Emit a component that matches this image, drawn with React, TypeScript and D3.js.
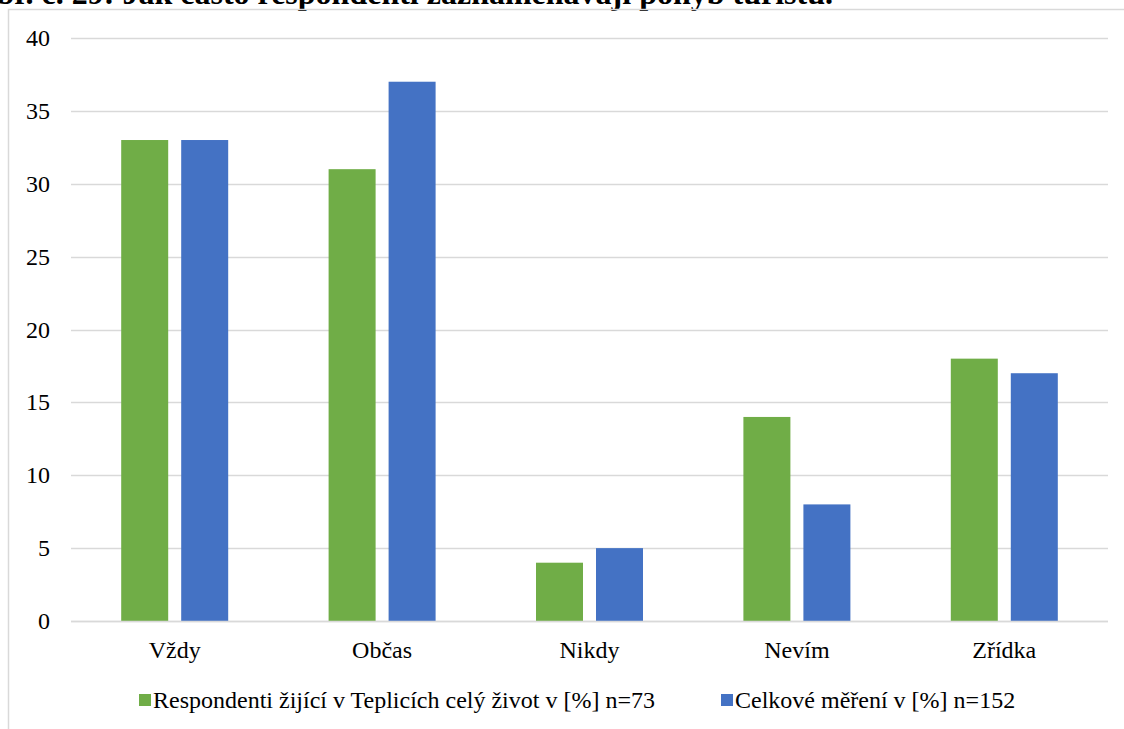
import React, { useEffect, useRef } from "react";
import * as d3 from "d3";

const categories = ["Vždy", "Občas", "Nikdy", "Nevím", "Zřídka"];
const seriesNames = [
  "Respondenti žijící v Teplicích celý život v [%] n=73",
  "Celkové měření v [%] n=152",
];
const teplice = [33, 31, 4, 14, 18];
const celkove = [33, 37, 5, 8, 17];
const yTicks = [0, 5, 10, 15, 20, 25, 30, 35, 40];
const colors = ["#70AD47", "#4472C4"];
const title = "Obr. č. 29: Jak často respondenti zaznamenávají pohyb turistů.";

const W = 1124;
const H = 729;

export default function App() {
  const ref = useRef<SVGSVGElement | null>(null);

  useEffect(() => {
    const svg = d3.select(ref.current);
    svg.selectAll("*").remove();
    const font = "'Liberation Serif', 'Times New Roman', serif";

    // title, partly above the visible area
    svg
      .append("text")
      .attr("x", 833)
      .attr("y", 4)
      .attr("text-anchor", "end")
      .attr("font-family", font)
      .attr("font-weight", "bold")
      .attr("font-size", 32)
      .attr("fill", "#000")
      .text(title);

    // chart frame
    svg
      .append("rect")
      .attr("x", 8.5)
      .attr("y", 9.5)
      .attr("width", 1200)
      .attr("height", 800)
      .attr("fill", "none")
      .attr("stroke", "#d9d9d9")
      .attr("stroke-width", 1.5);

    const x = d3.scaleBand().domain(categories).range([71, 1108]);
    const y = d3.scaleLinear().domain([0, 40]).range([621, 38]);
    const barW = 47;
    const gap = 13;

    const g = svg.append("g");

    g.selectAll("line.grid")
      .data(yTicks)
      .join("line")
      .attr("class", "grid")
      .attr("x1", 71)
      .attr("x2", 1108)
      .attr("y1", (d) => Math.round(y(d)) + 0.5)
      .attr("y2", (d) => Math.round(y(d)) + 0.5)
      .attr("stroke", "#d9d9d9")
      .attr("stroke-width", 1.5);

    g.selectAll("text.ytick")
      .data(yTicks)
      .join("text")
      .attr("class", "ytick")
      .attr("x", 50)
      .attr("y", (d) => y(d) + 8)
      .attr("text-anchor", "end")
      .attr("font-family", font)
      .attr("font-size", 24)
      .attr("fill", "#000")
      .text((d) => String(d));

    const series = [teplice, celkove];
    series.forEach((vals, si) => {
      g.selectAll(`rect.s${si}`)
        .data(vals)
        .join("rect")
        .attr("class", `s${si}`)
        .attr("x", (_, i) => {
          const c = x(categories[i])! + x.bandwidth() / 2;
          return si === 0 ? c - gap / 2 - barW : c + gap / 2;
        })
        .attr("width", barW)
        .attr("y", (d) => y(d))
        .attr("height", (d) => y(0) - y(d))
        .attr("fill", colors[si]);
    });

    // baseline
    g.append("line")
      .attr("x1", 71)
      .attr("x2", 1108)
      .attr("y1", Math.round(y(0)) + 0.5)
      .attr("y2", Math.round(y(0)) + 0.5)
      .attr("stroke", "#d9d9d9")
      .attr("stroke-width", 1.5);

    g.selectAll("text.xtick")
      .data(categories)
      .join("text")
      .attr("class", "xtick")
      .attr("x", (d) => x(d)! + x.bandwidth() / 2)
      .attr("y", 658)
      .attr("text-anchor", "middle")
      .attr("font-family", font)
      .attr("font-size", 24)
      .attr("fill", "#000")
      .text((d) => d);

    // legend
    const legendX = [139, 721];
    seriesNames.forEach((name, i) => {
      svg
        .append("rect")
        .attr("x", legendX[i])
        .attr("y", 694)
        .attr("width", 12)
        .attr("height", 12)
        .attr("fill", colors[i]);
      svg
        .append("text")
        .attr("x", legendX[i] + 14)
        .attr("y", 708)
        .attr("font-family", font)
        .attr("font-size", 24)
        .attr("fill", "#000")
        .text(name);
    });
  }, []);

  return (
    <svg
      ref={ref}
      width={W}
      height={H}
      style={{ position: "absolute", left: 0, top: 0, background: "#fff", overflow: "hidden" }}
    />
  );
}
